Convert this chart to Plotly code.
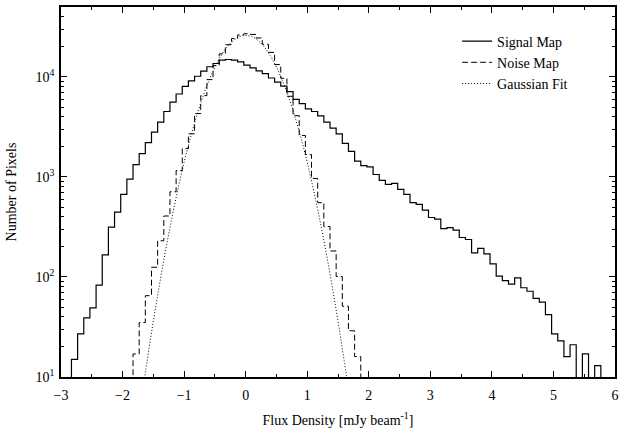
import numpy as np
import plotly.graph_objects as go

# ---------------- data ----------------
bin_width = 0.1

signal_first_edge = -2.83
signal_counts = [15, 27, 39, 49, 83, 166, 315, 444, 670, 951,
                 1330, 1710, 2200, 2810, 3530, 4510, 5590, 6750, 8050, 9130,
                 10150, 11450, 12630, 13620, 14720, 14930, 14720, 14170, 13120, 12300,
                 11500, 10800, 9750, 8850, 8080, 7120, 5950, 5400, 4800, 4510,
                 4085, 3530, 3080, 2700, 2170, 1800, 1436, 1300, 1260, 1058,
                 923, 842, 861, 751, 670, 553, 533, 465, 393, 378,
                 305, 312, 294, 248, 237, 174, 193, 170, 135, 102,
                 92, 85, 98, 78, 72, 61, 56, 42, 27, 23,
                 16, 21, 1, 17, 1, 13]

noise_first_edge = -1.83
noise_counts = [17, 35, 65, 125, 230, 407, 711, 1160, 1920, 2700,
                4300, 6500, 9400, 13000, 17000, 21000, 24200, 26300, 27000, 26600,
                24500, 21200, 17600, 13300, 9700, 6400, 4100, 2600, 1675, 966,
                553, 319, 182, 101, 51, 29, 16]

gauss_x = [-1.7, -1.6, -1.5, -1.4, -1.3, -1.2, -1.1, -1.0, -0.9, -0.8, -0.7, -0.6,
           -0.5, -0.4, -0.3, -0.2, -0.1, 0.0, 0.1, 0.2, 0.3, 0.4, 0.5, 0.6,
           0.7, 0.8, 0.9, 1.0, 1.1, 1.2, 1.3, 1.4, 1.5, 1.6, 1.7]
gauss_y = [5.6, 14.6, 36, 84, 186, 385, 755, 1400, 2430, 4000, 6210, 9080,
           12530, 16300, 20000, 23120, 25250, 26000, 25250, 23120, 20000, 16300,
           12530, 9080, 6210, 4000, 2430, 1400, 755, 385, 186, 84, 36, 14.6, 5.6]

x_ticks = [-3, -2, -1, 0, 1, 2, 3, 4, 5, 6]
x_minor = [-2.5, -1.5, -0.5, 0.5, 1.5, 2.5, 3.5, 4.5, 5.5]
y_ticks = [10, 100, 1000, 10000]
y_ticktext = ["10<sup>1</sup>", "10<sup>2</sup>", "10<sup>3</sup>", "10<sup>4</sup>"]
y_minor = [m * 10 ** e for e in range(1, 5) for m in range(2, 10)]

FLOOR = 1  # below the visible axis (histogram drops to the axis)


def step_xy(first_edge, counts):
    edges = first_edge + bin_width * np.arange(len(counts) + 1)
    x = np.concatenate([[edges[0] - bin_width], edges])
    y = [FLOOR] + list(counts) + [FLOOR]
    return x, y


sx, sy = step_xy(signal_first_edge, signal_counts)
nx, ny = step_xy(noise_first_edge, noise_counts)

font_family = "Liberation Serif, Times New Roman, serif"

fig = go.Figure()
fig.add_trace(go.Scatter(x=sx, y=sy, mode="lines", line_shape="hv",
                         line=dict(color="black", width=1.2),
                         name="Signal Map"))
fig.add_trace(go.Scatter(x=nx, y=ny, mode="lines", line_shape="hv",
                         line=dict(color="black", width=1, dash="6px,3px"),
                         name="Noise Map"))
fig.add_trace(go.Scatter(x=gauss_x, y=gauss_y, mode="lines", line_shape="spline",
                         line=dict(color="black", width=1, dash="1px,2px"),
                         name="Gaussian Fit"))

fig.update_layout(
    width=624, height=434,
    margin=dict(l=61, r=6, t=5, b=57),
    paper_bgcolor="white", plot_bgcolor="white",
    font=dict(family=font_family, size=14, color="black"),
    showlegend=True,
    legend=dict(x=0.715, y=0.95, xanchor="left", yanchor="top",
                bgcolor="rgba(0,0,0,0)", borderwidth=0,
                font=dict(family=font_family, size=14, color="black"),
                itemwidth=30),
)
fig.update_xaxes(
    range=[-3, 6], tickmode="array", tickvals=x_ticks,
    ticks="inside", ticklen=6, tickwidth=1, tickcolor="black",
    minor=dict(tickmode="array", tickvals=x_minor, ticks="inside", ticklen=3,
               tickcolor="black", showgrid=False),
    showline=True, linecolor="black", linewidth=1.5, mirror="ticks",
    showgrid=False, zeroline=False,
    ticklabelstandoff=4,
    title=dict(text="Flux Density [mJy beam<sup>-1</sup>]", standoff=14,
               font=dict(family=font_family, size=14)),
    tickfont=dict(family=font_family, size=14),
)
fig.update_yaxes(
    type="log", range=[1, np.log10(50000)], tickmode="array",
    tickvals=y_ticks, ticktext=y_ticktext,
    ticks="inside", ticklen=6, tickwidth=1, tickcolor="black",
    minor=dict(tickmode="array", tickvals=y_minor, ticks="inside", ticklen=3,
               tickcolor="black", showgrid=False),
    showline=True, linecolor="black", linewidth=1.5, mirror="ticks",
    showgrid=False, zeroline=False,
    ticklabelstandoff=2,
    title=dict(text="Number of Pixels", standoff=16,
               font=dict(family=font_family, size=14)),
    tickfont=dict(family=font_family, size=14),
)

fig.write_html("out.html",
               config={"displayModeBar": False},
               post_script="document.body.style.margin='0';document.body.style.overflow='hidden';")
